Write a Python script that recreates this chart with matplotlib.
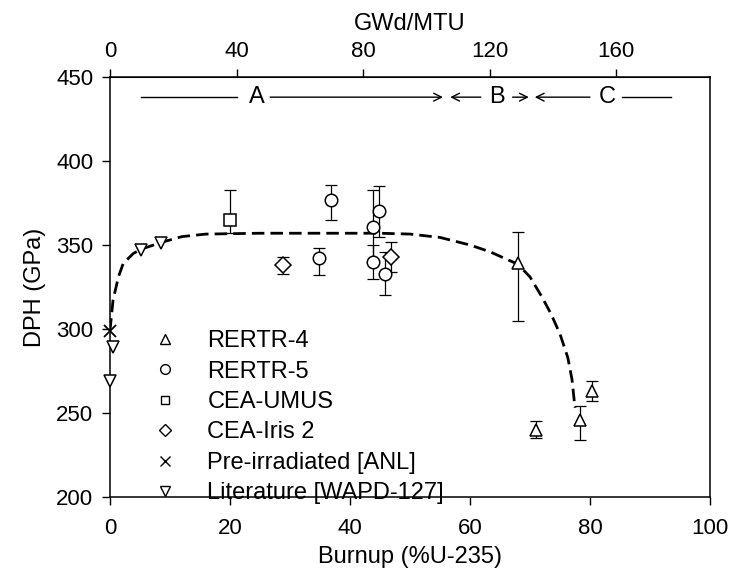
import matplotlib
matplotlib.use('Agg')
import matplotlib.pyplot as plt
from matplotlib.lines import Line2D

plt.rcParams['font.family'] = ['Liberation Sans', 'DejaVu Sans']

# ---------------- data ----------------
rertr4_x = [68.0, 71.0, 78.3, 80.3]
rertr4_y = [339, 240, 246, 263]
rertr4_err_lo = [34, 5, 12, 6]
rertr4_err_hi = [19, 5, 8, 6]

rertr5_x = [34.9, 36.9, 43.8, 43.8, 44.8, 45.9]
rertr5_y = [342, 377, 361, 340, 370, 333]
rertr5_err_lo = [10, 12, 22, 10, 15, 13]
rertr5_err_hi = [6, 9, 22, 10, 15, 13]

umus_x = [20.0]
umus_y = [365]
umus_err_lo = [8]
umus_err_hi = [18]

iris_x = [28.9, 46.8]
iris_y = [338, 343]
iris_err = [5, 9]

pre_x = [0.0]
pre_y = [299]

lit_x = [0.0, 0.5, 5.2, 8.5]
lit_y = [269, 289, 347, 351]

curve_x = [0, 0.5, 1.4, 2.2, 3.9, 5.2, 8.5, 12, 16, 25, 35, 45, 50, 55, 60,
           63.3, 65.5, 68, 70, 72, 73.5, 75, 76.3, 77.0, 77.5]
curve_y = [299, 317, 331, 339, 345, 347.5, 351.5, 355, 356.5, 357, 357, 357,
           356.5, 354.5, 350, 346, 342.5, 338.5, 331, 319, 309, 297, 283, 270, 253]

gwd_per_pct = 1.896
top_ticks = [0, 40, 80, 120, 160]
x_ticks = [0, 20, 40, 60, 80, 100]
y_ticks = [200, 250, 300, 350, 400, 450]

legend_labels = ['RERTR-4', 'RERTR-5', 'CEA-UMUS', 'CEA-Iris 2',
                 'Pre-irradiated [ANL]', 'Literature [WAPD-127]']

region_y = 438
region_labels = ['A', 'B', 'C']
region_label_x = [24.4, 64.5, 82.8]

# ---------------- figure ----------------
FS = 16
LFS = 17
fig = plt.figure(figsize=(7.33, 5.76), dpi=100)
ax = fig.add_axes([110/733, 1-497/576, 600/733, 420/576])

ax.plot(curve_x, curve_y, ls=(0, (4.5, 2.2)), color='black', lw=2.0, zorder=2)

mk = dict(ls='none', mfc='white', mec='black', mew=1.1, zorder=4, clip_on=False)
ekw = dict(fmt='none', ecolor='black', elinewidth=0.9, capsize=4, capthick=0.9, zorder=3)

ax.errorbar(rertr4_x, rertr4_y, yerr=[rertr4_err_lo, rertr4_err_hi], **ekw)
ax.plot(rertr4_x, rertr4_y, marker='^', ms=9, **mk)

ax.errorbar(rertr5_x, rertr5_y, yerr=[rertr5_err_lo, rertr5_err_hi], **ekw)
ax.plot(rertr5_x, rertr5_y, marker='o', ms=9, **mk)

ax.errorbar(umus_x, umus_y, yerr=[umus_err_lo, umus_err_hi], **ekw)
ax.plot(umus_x, umus_y, marker='s', ms=8, **mk)

ax.errorbar(iris_x, iris_y, yerr=iris_err, **ekw)
ax.plot(iris_x, iris_y, marker='D', ms=8, **mk)

ax.plot(pre_x, pre_y, marker='x', ms=8, ls='none', color='black', mew=1.3,
        zorder=5, clip_on=False)
ax.plot(lit_x, lit_y, marker='v', ms=9, **mk)

# region arrows
def seg(x0, x1, head):
    if head:
        ax.annotate('', xy=(x1, region_y), xytext=(x0, region_y),
                    arrowprops=dict(arrowstyle='->', lw=1.0, color='black',
                                    shrinkA=0, shrinkB=0, mutation_scale=14))
    else:
        ax.plot([x0, x1], [region_y, region_y], color='black', lw=1.0)

seg(5.1, 21.2, False)
seg(26.7, 55.5, True)
seg(61.8, 56.7, True)
seg(67.1, 69.8, True)
seg(80.0, 70.8, True)
seg(85.3, 93.5, False)
for lab, lx in zip(region_labels, region_label_x):
    ax.text(lx, region_y, lab, ha='center', va='center', fontsize=LFS)

ax.set_xlim(0, 100)
ax.set_ylim(200, 450)
ax.set_xticks(x_ticks)
ax.set_yticks(y_ticks)
ax.tick_params(direction='out', length=6, width=1, labelsize=FS, pad=9)
ax.tick_params(axis='y', pad=6)
ax.set_xlabel('Burnup (%U-235)', fontsize=LFS, labelpad=5)
ax.set_ylabel('DPH (GPa)', fontsize=LFS, labelpad=7)
for s in ax.spines.values():
    s.set_linewidth(1.1)

sec = ax.secondary_xaxis('top', functions=(lambda x: x * gwd_per_pct,
                                           lambda g: g / gwd_per_pct))
sec.set_xticks(top_ticks)
sec.tick_params(direction='out', length=6, width=1, labelsize=FS, pad=5)
sec.set_xlabel('GWd/MTU', fontsize=LFS, labelpad=8)

# legend
pm = dict(ls='none', mfc='none', mec='black', mew=1.0)
handles = [Line2D([], [], marker='^', ms=7, **pm),
           Line2D([], [], marker='o', ms=7, **pm),
           Line2D([], [], marker='s', ms=6, **pm),
           Line2D([], [], marker='D', ms=6, **pm),
           Line2D([], [], marker='x', ms=7, ls='none', color='black', mew=1.0),
           Line2D([], [], marker='v', ms=7, **pm)]
leg = ax.legend(handles, legend_labels, loc='upper left',
                bbox_to_anchor=(153/733, 1-330/576), bbox_transform=fig.transFigure,
                frameon=False, fontsize=LFS, borderpad=0, borderaxespad=0,
                handlelength=1.0, handletextpad=1.3, labelspacing=0.36)
leg.set_zorder(6)

fig.savefig('out.png', dpi=100)
